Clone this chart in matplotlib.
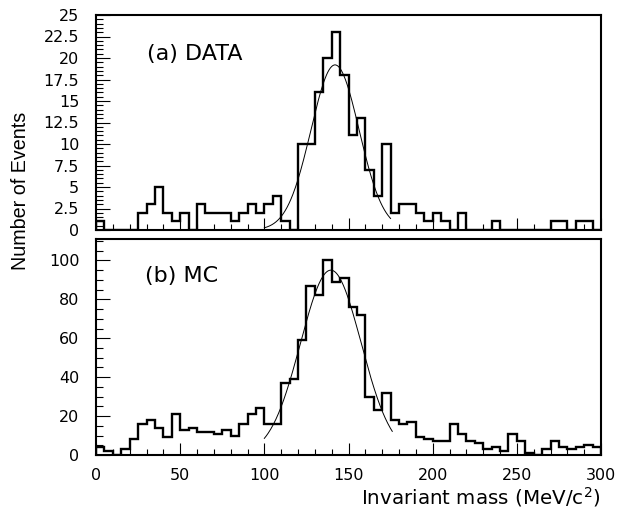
import numpy as np
import matplotlib
matplotlib.use("Agg")
import matplotlib.pyplot as plt
from matplotlib.ticker import MultipleLocator, FormatStrFormatter

plt.rcParams['font.family'] = ['DejaVu Sans']

# 60 bins of 5 MeV from 0 to 300
edges = np.arange(0, 305, 5)

# (a) DATA counts per bin
data_counts = [1, 0, 0, 0, 0, 2, 3, 5, 2, 1,
               2, 0, 3, 2, 2, 2, 1, 2, 3, 2,
               3, 4, 1, 0, 10, 10, 16, 20, 23, 18,
               11, 13, 7, 4, 10, 2, 3, 3, 2, 1,
               2, 1, 0, 2, 0, 0, 0, 1, 0, 0,
               0, 0, 0, 0, 1, 1, 0, 1, 1, 0]

# (b) MC counts per bin
mc_counts = [4, 2, 0, 3, 8, 16, 18, 14, 9, 21,
             13, 14, 12, 12, 11, 13, 10, 16, 21, 24,
             16, 16, 37, 39, 59, 87, 82, 100, 89, 91,
             76, 72, 30, 23, 32, 18, 16, 17, 9, 8,
             7, 7, 16, 11, 7, 6, 3, 4, 2, 11,
             7, 1, 0, 3, 7, 4, 3, 4, 5, 4]

# gaussian fits: amplitude, mean, sigma, range
data_fit = (19.2, 142.0, 14.3, 100.0, 175.0)
mc_fit = (95.0, 139.5, 18.0, 100.0, 176.0)


def gauss_curve(fit):
    amp, mu, sig, lo, hi = fit
    x = np.linspace(lo, hi, 200)
    return x, amp * np.exp(-0.5 * ((x - mu) / sig) ** 2)


fig = plt.figure(figsize=(6.18, 5.19), dpi=100)
ax1 = fig.add_axes([96 / 618, 1 - 230 / 519, 505 / 618, 215 / 519])
ax2 = fig.add_axes([96 / 618, 1 - 455 / 519, 505 / 618, 216 / 519])

for ax, counts, fit in [(ax1, data_counts, data_fit), (ax2, mc_counts, mc_fit)]:
    ax.stairs(counts, edges, color='black', linewidth=1.7)
    fx, fy = gauss_curve(fit)
    ax.plot(fx, fy, color='black', linewidth=0.7)
    ax.set_xlim(0, 300)
    for s in ax.spines.values():
        s.set_linewidth(1.5)
    ax.xaxis.set_major_locator(MultipleLocator(50))
    ax.xaxis.set_minor_locator(MultipleLocator(10))
    ax.tick_params(axis='both', which='both', direction='in', top=False, right=False,
                   width=0.8, labelsize=11.5)
    ax.tick_params(axis='x', which='major', length=9, pad=9)
    ax.tick_params(axis='x', which='minor', length=4)
    ax.tick_params(axis='y', which='major', length=10, pad=12)
    ax.tick_params(axis='y', which='minor', length=5)

ax1.set_ylim(0, 25)
ax1.yaxis.set_major_locator(MultipleLocator(2.5))
ax1.yaxis.set_minor_locator(MultipleLocator(0.5))
ax1.yaxis.set_major_formatter(FormatStrFormatter('%g'))
ax1.tick_params(axis='x', labelbottom=False)

ax2.set_ylim(0, 111)
ax2.yaxis.set_major_locator(MultipleLocator(20))
ax2.yaxis.set_minor_locator(MultipleLocator(5))

ax1.text((147 - 96) / 505, (230 - 60) / 215, '(a) DATA', transform=ax1.transAxes,
         fontsize=16, ha='left', va='baseline')
ax2.text((145 - 96) / 505, (455 - 282) / 216, '(b) MC', transform=ax2.transAxes,
         fontsize=16, ha='left', va='baseline')

fig.text(21 / 618, 1 - 191 / 519, 'Number of Events', rotation=90,
         fontsize=14.2, family='Liberation Sans', ha='center', va='center')
fig.text(601 / 618, 1 - 497 / 519, 'Invariant mass (MeV/c$^2$)',
         fontsize=14.3, ha='right', va='center')

plt.savefig('out.png', dpi=100)
